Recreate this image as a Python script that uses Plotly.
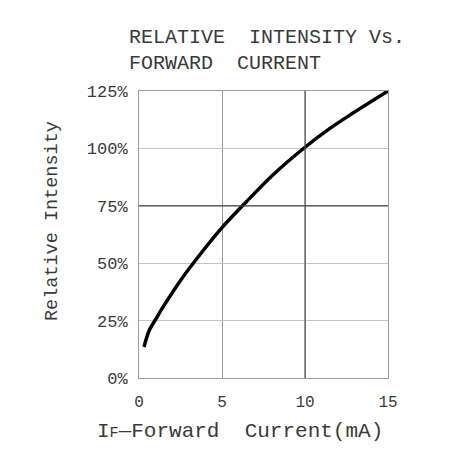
import plotly.graph_objects as go

# Data
current_ma = [0.3, 0.6, 1.0, 1.5, 2.5, 3.7, 5.0, 6.5, 8.0, 10.0, 11.5, 12.7, 15.0]
rel_intensity = [13.5, 20.5, 25.5, 31.5, 42.5, 54.0, 65.5, 77.0, 88.0, 100.5, 108.7, 114.5, 125.0]

x_ticks = [0, 5, 10, 15]
x_tick_labels = ["0", "5", "10", "15"]
y_ticks = [0, 25, 50, 75, 100, 125]
y_tick_labels = ["0%", "25%", "50%", "75%", "100%", "125%"]

FONT = "Liberation Mono"
TXT = "#3a3a3a"

# page is offset by the body margin (8px); plot area target in page px: x 139-388, y 91-378
PW, PH = 249, 287

fig = go.Figure()
fig.add_trace(go.Scatter(
    x=current_ma, y=rel_intensity, mode="lines",
    line=dict(color="black", width=3.5, shape="spline", smoothing=0.8),
    showlegend=False, hoverinfo="skip",
))

fig.update_layout(
    width=453, height=449,
    margin=dict(l=131, r=453 - 131 - PW, t=83, b=449 - 83 - PH),
    paper_bgcolor="white", plot_bgcolor="white",
    font=dict(family=FONT, color=TXT, size=15),
    xaxis=dict(
        range=[0, 15], tickvals=x_ticks, ticktext=x_tick_labels,
        showgrid=True, gridcolor="#9a9a9a", gridwidth=1,
        showline=True, linecolor="#9a9a9a", linewidth=1, mirror=True,
        zeroline=False, ticks="", ticklabelstandoff=9,
        tickfont=dict(family=FONT, size=16, color=TXT),
    ),
    yaxis=dict(
        range=[0, 125], tickvals=y_ticks, ticktext=y_tick_labels,
        showgrid=True, gridcolor="#c4c4c4", gridwidth=1,
        showline=True, linecolor="#9a9a9a", linewidth=1, mirror=True,
        zeroline=False, ticks="", ticklabelstandoff=7,
        tickfont=dict(family=FONT, size=17, color=TXT),
    ),
)

# darker reference grid lines
fig.add_shape(type="line", xref="paper", yref="y", x0=0, x1=1, y0=75, y1=75,
              line=dict(color="#444444", width=1.3))
fig.add_shape(type="line", xref="x", yref="paper", x0=10, x1=10, y0=0, y1=1,
              line=dict(color="#555555", width=1.2))

# Title
fig.add_annotation(
    text="RELATIVE  INTENSITY Vs.<br>FORWARD  CURRENT",
    xref="paper", yref="paper", x=(127 - 139) / PW, y=1 + (91 - 24) / PH,
    xanchor="left", yanchor="top", align="left", showarrow=False,
    font=dict(family=FONT, size=20, color="#3a3a3a"),
)

# Axis titles
fig.add_annotation(
    text="I<span style='font-size:15px'>F</span>\u2014Forward  Current(mA)",
    xref="paper", yref="paper", x=(240 - 139) / PW, y=-(431 - 378) / PH,
    xanchor="center", yanchor="middle", showarrow=False,
    font=dict(family=FONT, size=21, color=TXT),
)
fig.add_annotation(
    text="Relative Intensity",
    xref="paper", yref="paper", x=-(139 - 52) / PW, y=(378 - 221) / PH,
    xanchor="center", yanchor="middle", textangle=-90, showarrow=False,
    font=dict(family=FONT, size=18.5, color=TXT),
)

fig.write_html("out.html")
